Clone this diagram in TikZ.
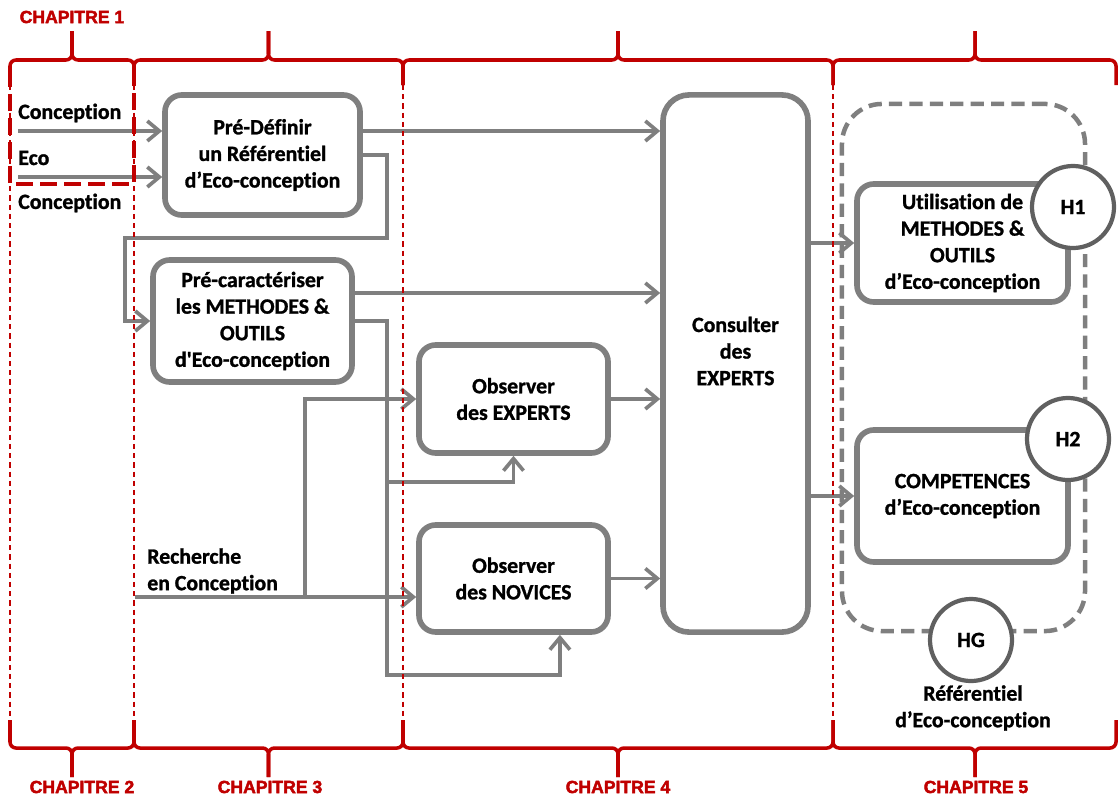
\documentclass[tikz,border=0pt]{standalone}
\usepackage{fontspec}
\setmainfont{Carlito}[Ligatures={NoCommon}, BoldFeatures={FakeBold=1.2}]
\newfontfamily\chapfont{Liberation Sans}[BoldFeatures={FakeBold=2.5}]
\usetikzlibrary{arrows.meta}

\definecolor{boxgray}{HTML}{7F7F7F}
\definecolor{ringgray}{HTML}{606060}
\definecolor{chapred}{HTML}{C00000}

\begin{document}
\begin{tikzpicture}[x=0.025cm, y=-0.025cm,
    font=\fontsize{15.5pt}{18.9pt}\selectfont\bfseries,
    stage/.style={draw=boxgray, line width=4pt, rounded corners=0.42cm, fill=white, align=center, inner sep=0pt},
    hypframe/.style={draw=boxgray, line width=3.2pt, rounded corners=1cm, dash pattern=on 0.33cm off 0.18cm},
    hyp/.style={circle, draw=ringgray, line width=3pt, fill=white, minimum size=2.05cm, inner sep=0pt},
    flow/.style={draw=boxgray, line width=2.6pt, -{Straight Barb[length=0.3cm,width=0.5cm]}},
    tag/.style={inner sep=0pt, anchor=west, align=left},
    chapbrace/.style={draw=chapred, line width=2.5pt, rounded corners=0.15cm},
    chapline/.style={draw=chapred, line width=0.9pt, dash pattern=on 0.13cm off 0.1cm},
    chapbox/.style={draw=chapred, line width=3pt, dash pattern=on 0.42cm off 0.18cm},
    chaplabel/.style={text=chapred, font=\chapfont\bfseries\fontsize{12.5pt}{14pt}\selectfont},
    ]

    % Fix the page to the size of the reference
    \useasboundingbox (0,0) rectangle (1118,796);

    % Input labels on the left
    \node[tag] (conc1) at (18,113) {Conception};
    \node[tag] (eco) at (18,158) {Eco};
    \node[tag] (conc2) at (18,203) {Conception};
    \node[tag] (research) at (147,571) {\addfontfeatures{Ligatures=Common}Recherche\\en Conception};

    % Free ends of the input arrows
    \coordinate (inconc) at (18,131);
    \coordinate (ineco) at (18,177);
    \coordinate (inresearch) at (135,597);
    \coordinate (splitres) at (305,597);
    \coordinate (splitexp) at (387,482);

    % Main stages
    \node[stage, minimum width=4.875cm, minimum height=3cm] (define) at (262.5,155)
        {Pré-Définir\\un Référentiel\\d’Eco-conception};
    \node[stage, minimum width=4.975cm, minimum height=3.05cm] (precar) at (252.5,321)
        {Pré-caractériser\\les METHODES \&\\OUTILS\\d\textquotesingle Eco-conception};
    \node[stage, minimum width=4.725cm, minimum height=2.7cm] (observexp) at (513.5,399)
        {Observer\\des EXPERTS};
    \node[stage, minimum width=4.725cm, minimum height=2.675cm] (observnov) at (513.5,578.5)
        {Observer\\des NOVICES};
    \node[stage, rounded corners=0.65cm, minimum width=3.625cm, minimum height=13.425cm] (consult) at (735.5,363.5) {};
    \node[align=center] (consultlabel) at (735.5,351) {Consulter\\des\\EXPERTS};

    % Chapter 5: hypotheses frame
    \node[hypframe, minimum width=6.075cm, minimum height=13.175cm] (frame) at (963.5,367.5) {};
    \node[stage, minimum width=5.275cm, minimum height=2.95cm] (usage) at (962.5,243)
        {Utilisation de\\METHODES \&\\OUTILS\\d’Eco-conception};
    \node[stage, minimum width=5.275cm, minimum height=3.3cm] (skills) at (962.5,496)
        {COMPETENCES\\d’Eco-conception};
    \node[hyp] (h1) at (1073,207) {H1};
    \node[hyp] (h2) at (1068,439) {H2};
    \node[hyp] (hg) at (971,640) {HG};
    \node[align=center] (reflabel) at (973,708) {Référentiel\\d’Eco-conception};

    % Arrows into the first stage
    \draw[flow] (inconc) -- (inconc -| define.west);
    \draw[flow] (ineco) -- (ineco -| define.west);

    % Arrows out of the first stage
    \draw[flow] (define.east |- inconc) -- (consult.west |- inconc);
    \draw[flow] (define.east) -| (387,238) -| (125,321) -- (precar.west);

    % Arrows out of the second stage
    \draw[flow] (precar.east |- 0,293) -- (consult.west |- 0,293);
    \draw[flow] (precar.east) -| (387,675) -| ([xshift=1.16cm]observnov.south);
    \draw[flow] (splitexp) -| (observexp.south);

    % Research input feeding both observations
    \draw[flow] (inresearch) -- (inresearch -| observnov.west);
    \draw[flow] (splitres) |- (observexp.west);

    % Observations into the experts consultation
    \draw[flow] (observexp.east) -- (observexp.east -| consult.west);
    \draw[flow] (observnov.east) -- (observnov.east -| consult.west);

    % Consultation into the hypotheses
    \draw[flow] (consult.east |- usage.west) -- (usage.west);
    \draw[flow] (consult.east |- skills.west) -- (skills.west);

    % Chapter separators
    \draw[chapline] (10,85) -- (10,720);
    \draw[chapline] (134,85) -- (134,720);
    \draw[chapline] (403,85) -- (403,720);
    \draw[chapline] (833,85) -- (833,720);

    % Chapter 1 area
    \draw[chapbox] (10,70) -- (10,184) -- (134,184) -- (134,85);

    % Top braces
    \draw[chapbrace] (10,85) |- (72,60) -- (72,31);
    \draw[chapbrace] (134,85) |- (72,60) -- (72,31);
    \draw[chapbrace] (134,85) |- (268.5,60) -- (268.5,31);
    \draw[chapbrace] (403,85) |- (268.5,60) -- (268.5,31);
    \draw[chapbrace] (403,85) |- (618,60) -- (618,31);
    \draw[chapbrace] (833,85) |- (618,60) -- (618,31);
    \draw[chapbrace] (833,85) |- (975,60) -- (975,31);
    \draw[chapbrace] (1116,85) |- (975,60) -- (975,31);

    % Bottom braces
    \draw[chapbrace] (10,720) |- (72,748) -- (72,777);
    \draw[chapbrace] (134,720) |- (72,748) -- (72,777);
    \draw[chapbrace] (134,720) |- (268.5,748) -- (268.5,777);
    \draw[chapbrace] (403,720) |- (268.5,748) -- (268.5,777);
    \draw[chapbrace] (403,720) |- (618,748) -- (618,777);
    \draw[chapbrace] (833,720) |- (618,748) -- (618,777);
    \draw[chapbrace] (833,720) |- (975,748) -- (975,777);
    \draw[chapbrace] (1116,720) |- (975,748) -- (975,777);

    % Chapter labels
    \node[chaplabel] (chap1) at (72,17) {CHAPITRE 1};
    \node[chaplabel] (chap2) at (82,787) {CHAPITRE 2};
    \node[chaplabel] (chap3) at (270,787) {CHAPITRE 3};
    \node[chaplabel] (chap4) at (618,787) {CHAPITRE 4};
    \node[chaplabel] (chap5) at (976,787) {CHAPITRE 5};

\end{tikzpicture}
\end{document}
